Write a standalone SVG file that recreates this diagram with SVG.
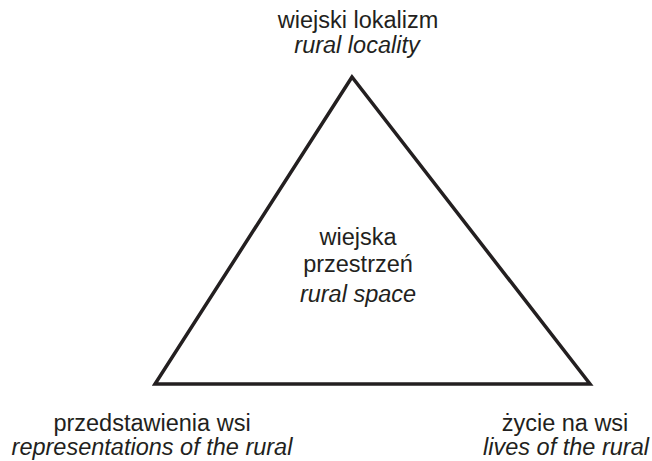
<svg xmlns="http://www.w3.org/2000/svg" width="652" height="461" viewBox="0 0 652 461">
<style>
text{font-family:"Liberation Sans",Arial,sans-serif;font-size:23.5px;fill:#231f20;text-anchor:middle}
.it{font-style:italic}
.tri{fill:none;stroke:#231f20;stroke-width:3.5;stroke-linejoin:miter}
</style>
<rect width="652" height="461" fill="#fff"/>
<g id="connectors">
<polygon class="tri" points="352,77 155,384 590,384"/>
</g>
<g id="top">
<text x="358" y="28">wiejski lokalizm</text>
<text class="it" x="357" y="53">rural locality</text>
</g>
<g id="center">
<text x="358" y="245">wiejska</text>
<text x="358" y="272">przestrzeń</text>
<text class="it" x="358" y="302">rural space</text>
</g>
<g id="left">
<text x="152" y="431">przedstawienia wsi</text>
<text class="it" x="152" y="455">representations of the rural</text>
</g>
<g id="right">
<text x="565" y="431">życie na wsi</text>
<text class="it" x="566" y="455">lives of the rural</text>
</g>
</svg>
